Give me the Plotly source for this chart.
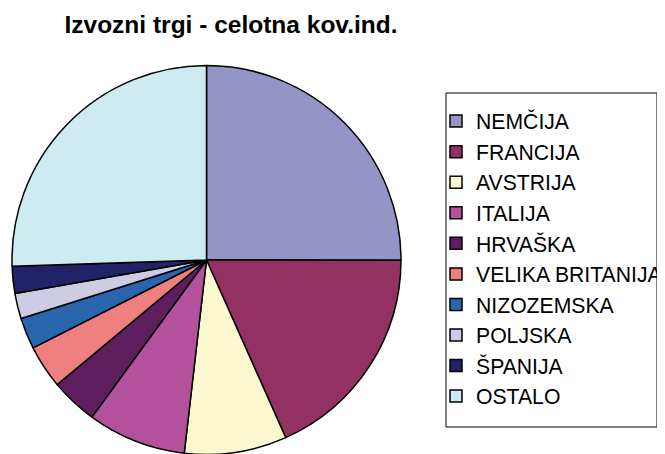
import plotly.graph_objects as go

countries = ["NEMČIJA", "FRANCIJA", "AVSTRIJA", "ITALIJA", "HRVAŠKA",
             "VELIKA BRITANIJA", "NIZOZEMSKA", "POLJSKA", "ŠPANIJA", "OSTALO"]
shares = [25.0, 18.3, 8.5, 8.2, 3.9, 3.6, 2.6, 2.1, 2.25, 25.5]
colors = ["#9494C5", "#933262", "#FBF8D0", "#B3519D", "#5D1E5E",
          "#F08080", "#2966AE", "#CCCCE5", "#222268", "#CDEBF0"]

W, H = 665, 454
OFF = 8  # page body margin offset
cx, cy, r = 206.5 - OFF, 260 - OFF, 194.5

fig = go.Figure(go.Pie(
    labels=countries,
    values=shares,
    sort=False,
    direction="clockwise",
    rotation=0,
    textinfo="none",
    hoverinfo="label+percent",
    marker=dict(colors=colors, line=dict(color="black", width=1.5)),
    domain=dict(x=[(cx - r) / W, (cx + r) / W],
                y=[(H - cy - r) / H, (H - cy + r) / H]),
))

fig.update_layout(
    width=W, height=H,
    margin=dict(l=0, r=0, t=0, b=0, autoexpand=False),
    paper_bgcolor="white",
    plot_bgcolor="white",
    font=dict(family="Arial, Liberation Sans, sans-serif", color="black"),
    title=dict(text="<b>Izvozni trgi - celotna kov.ind.</b>",
               font=dict(size=24.5, family="Arial, Liberation Sans, sans-serif", color="black"),
               x=(231 - OFF) / W, xanchor="center", y=1 - (24 - OFF) / H, yanchor="middle"),
    legend=dict(
        x=(436 - OFF) / W, xanchor="left",
        y=1 - (100.8 - OFF) / H, yanchor="top",
        font=dict(size=21.2, family="Arial, Liberation Sans, sans-serif", color="black"),
        borderwidth=0,
        bgcolor="rgba(0,0,0,0)",
        itemclick=False, itemdoubleclick=False,
    ),
    shapes=[dict(type="rect", xref="paper", yref="paper",
                 x0=(446 - OFF) / W, x1=(657 - OFF) / W,
                 y0=1 - (427 - OFF) / H, y1=1 - (93 - OFF) / H,
                 line=dict(color="black", width=1), fillcolor="rgba(0,0,0,0)",
                 layer="below")],
)

fig.write_html("out.html")
